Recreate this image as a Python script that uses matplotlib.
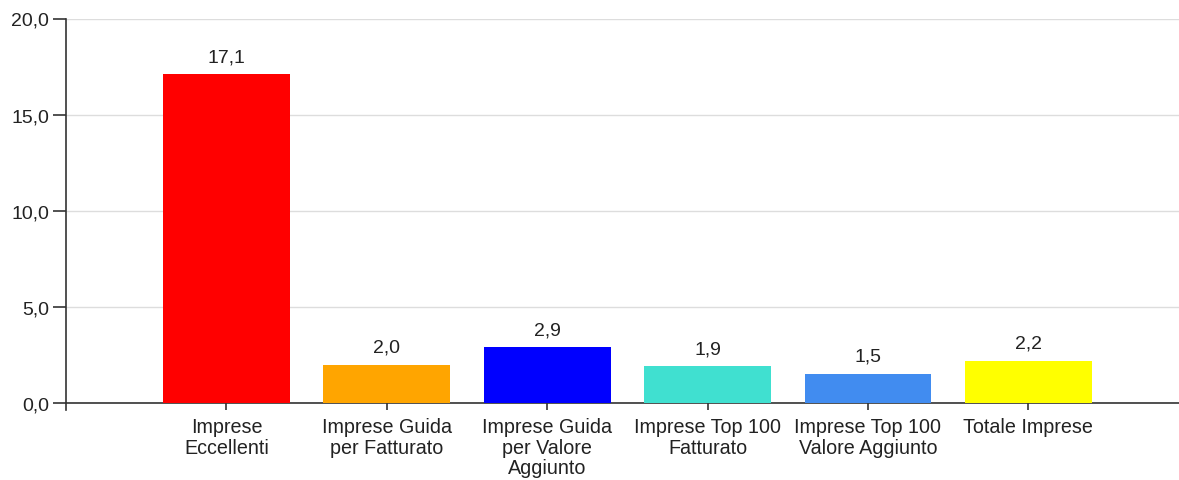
import matplotlib
matplotlib.use("Agg")
import matplotlib.pyplot as plt
from matplotlib.lines import Line2D
from matplotlib.ticker import FuncFormatter

categories = ["Imprese\nEccellenti", "Imprese Guida\nper Fatturato",
              "Imprese Guida\nper Valore\nAggiunto", "Imprese Top 100\nFatturato",
              "Imprese Top 100\nValore Aggiunto", "Totale Imprese"]
values = [17.1, 2.0, 2.9, 1.9, 1.5, 2.2]
colors = ["#FF0000", "#FFA500", "#0000FF", "#40E0D0", "#418CF0", "#FFFF00"]
yticks = [0, 5, 10, 15, 20]

plt.rcParams['font.family'] = ['Liberation Sans', 'DejaVu Sans']
W, H = 1179, 481
fig = plt.figure(figsize=(W / 100, H / 100), dpi=100)
ax = fig.add_axes([66 / W, 1 - 404 / H, (W - 66) / W, (404 - 19.5) / H])

pos = list(range(1, len(values) + 1))
ax.bar(pos, values, width=0.79, color=colors, edgecolor='none', zorder=3)
for x, v in zip(pos, values):
    ax.annotate(f"{v:.1f}".replace('.', ','), (x, v), xytext=(0, 9.5),
                textcoords='offset points', ha='center', va='baseline',
                fontsize=14, color='#222222')

ax.set_xlim(0, (W - 66) / 160.4)
ax.set_ylim(0, 20)
ax.set_yticks(yticks)
ax.yaxis.set_major_formatter(FuncFormatter(lambda v, p: f"{v:.1f}".replace('.', ',')))
ax.set_xticks(pos)
ax.set_xticklabels(categories, linespacing=1.12)
ax.grid(axis='y', color='#dddddd', linewidth=1, zorder=0)
ax.set_axisbelow(True)
for s in ['top', 'right']:
    ax.spines[s].set_visible(False)
for s in ['left', 'bottom']:
    ax.spines[s].set_color('#333333')
    ax.spines[s].set_linewidth(1.2)
ax.tick_params(axis='y', length=9.3, width=1.2, color='#333333', pad=3,
               labelsize=14, labelcolor='#222222')
ax.tick_params(axis='x', length=5, width=1.2, color='#333333', pad=5,
               labelsize=14.2, labelcolor='#222222')
# left spine small extension below zero
ax.add_line(Line2D([0, 0], [0, -7 / 384.5], transform=ax.transAxes,
                   color='#333333', linewidth=1.2, clip_on=False))

fig.savefig('out.png', dpi=100)
